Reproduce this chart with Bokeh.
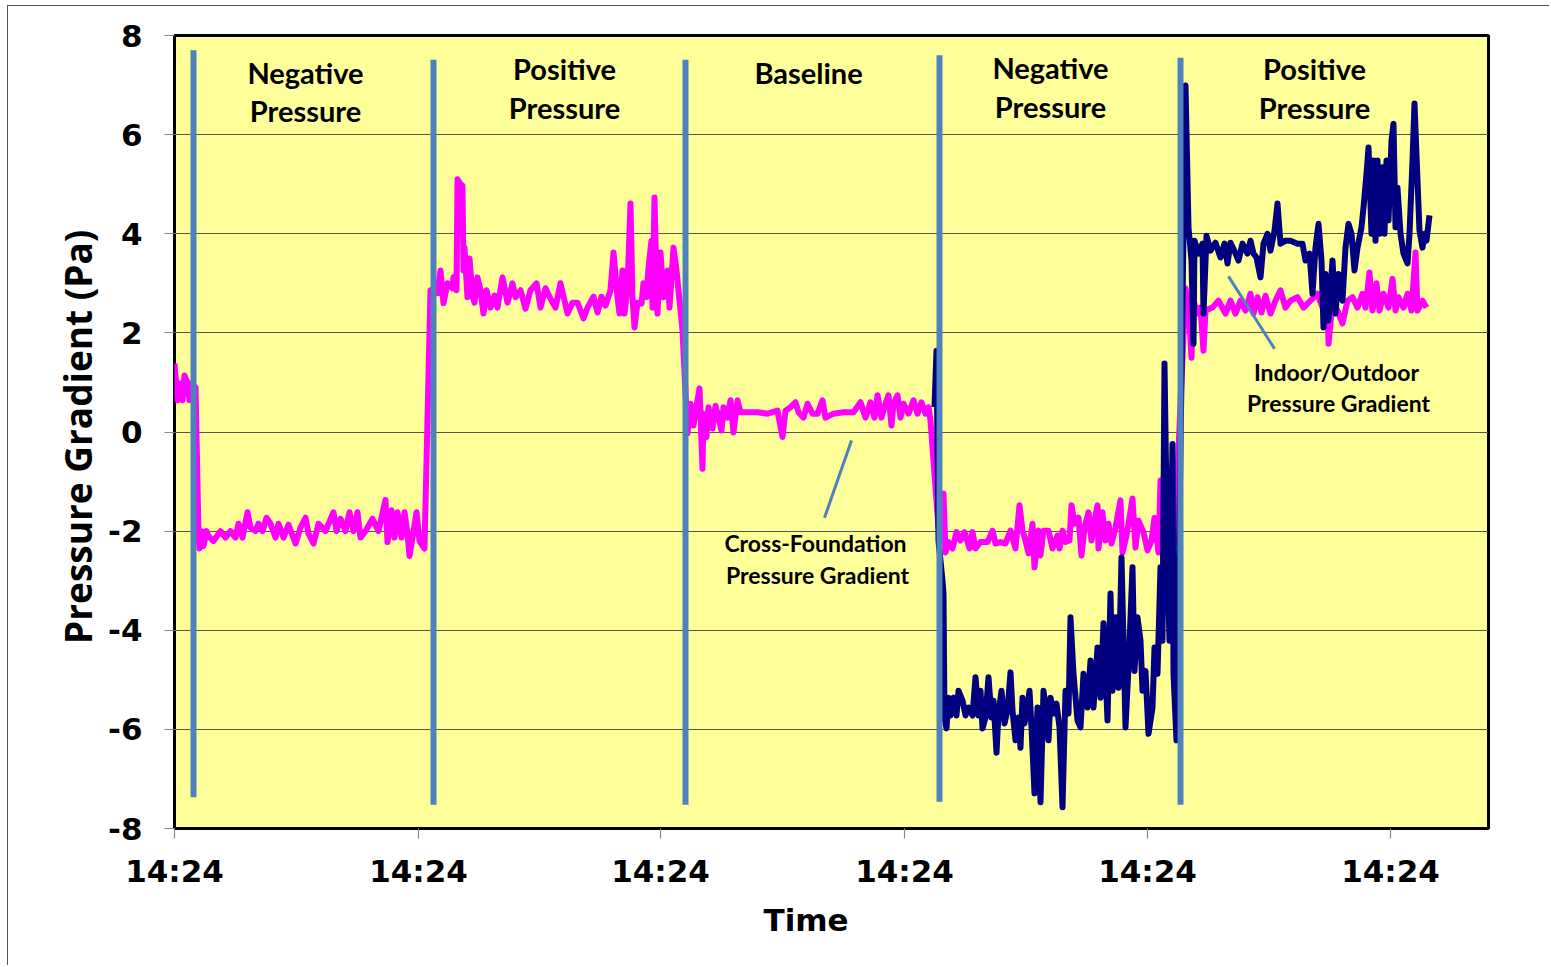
from bokeh.plotting import figure
from bokeh.models import FixedTicker, Label, Range1d, Title
from bokeh.embed import file_html
from bokeh.resources import INLINE

# ---------------- data ----------------
# time axis: seconds from the start of the record (every tick reads 14:24)
time_ticks = [0, 244, 486, 730, 973, 1216]
time_labels = ["14:24", "14:24", "14:24", "14:24", "14:24", "14:24"]
pa_ticks = [-8, -6, -4, -2, 0, 2, 4, 6, 8]
pa_labels = ["-8", "-6", "-4", "-2", "0", "2", "4", "6", "8"]

# test phases (vertical blue markers)
phase_names = ["Negative", "Positive", "Baseline", "Negative", "Positive"]
phase_change_t = [19, 259, 511, 765, 1006]
phase_line_top = [7.70, 7.51, 7.51, 7.60, 7.55]
phase_line_bottom = [-7.37, -7.52, -7.52, -7.46, -7.52]

# cross-foundation pressure gradient (Pa), (t, value)
cross_foundation_pre = [
    (0, 1.38), (3, 0.64), (5, 0.98), (8, 0.64), (10, 1.14), (13, 1.0), (15, 0.64),
    (17, 0.98), (21, 0.9)]
cross_foundation_neg1 = [
    (24, -2.05), (25, -2.35), (27, -2.0), (29, -2.3), (32, -2.0), (34, -2.1), (39, -2.2),
    (46, -2.0), (51, -2.13), (56, -2.0), (61, -2.13), (64, -1.85), (68, -2.13), (73, -1.62),
    (76, -1.93), (81, -2.0), (84, -1.85), (88, -2.0), (92, -1.73), (96, -1.85), (101, -2.13),
    (104, -1.85), (109, -2.13), (114, -1.87), (121, -2.25), (126, -1.93), (131, -1.73),
    (134, -2.05), (139, -2.25), (144, -1.85), (151, -2.0), (159, -1.62), (162, -2.0),
    (166, -1.75), (171, -2.0), (175, -1.62), (179, -2.0), (183, -1.62), (186, -2.13),
    (191, -2.0), (198, -1.75), (204, -2.0), (211, -1.37), (213, -2.22), (217, -1.58),
    (220, -2.13), (223, -1.62), (227, -2.13), (230, -1.62), (233, -2.05), (235, -2.5),
    (239, -2.0), (242, -1.62), (245, -2.2), (250, -2.35)]
cross_foundation_pos1 = [
    (256, 2.86), (263, 2.8), (266, 3.26), (269, 2.6), (273, 3.0), (278, 2.9), (279, 3.12),
    (282, 2.86), (283, 5.1), (286, 5.0), (288, 4.97), (289, 3.26), (290, 3.72), (293, 2.72),
    (295, 3.5), (298, 2.75), (300, 2.61), (303, 3.12), (306, 2.86), (309, 2.39), (312, 2.86),
    (316, 2.51), (320, 2.75), (323, 2.51), (328, 3.12), (333, 2.61), (338, 3.0), (341, 2.72),
    (346, 2.86), (351, 2.49), (356, 2.86), (362, 3.0), (366, 2.51), (371, 2.9), (376, 2.69),
    (381, 2.51), (386, 3.0), (390, 2.65), (393, 2.39), (398, 2.61), (403, 2.61), (409, 2.29),
    (413, 2.51), (419, 2.73), (423, 2.41), (427, 2.73), (431, 2.55), (436, 2.86), (439, 3.62),
    (443, 2.72), (445, 2.39), (448, 3.26), (450, 2.39), (453, 2.92), (456, 4.61), (458, 2.72),
    (460, 2.11), (463, 2.61), (467, 2.59), (469, 3.0), (472, 2.72), (474, 3.32), (477, 3.86),
    (478, 2.51), (480, 4.73), (482, 3.06), (483, 2.39), (486, 3.62), (489, 2.72), (493, 3.26),
    (495, 2.51), (499, 3.72), (502, 3.26), (508, 2.05)]
cross_foundation_base = [
    (513, -0.03), (516, 0.57), (519, 0.13), (523, 0.64), (525, 0.88), (528, -0.74),
    (529, 0.37), (532, -0.1), (534, 0.5), (538, 0.07), (541, 0.53), (544, 0.29), (547, 0.03),
    (549, 0.5), (553, 0.29), (556, 0.64), (559, -0.01), (563, 0.64), (566, 0.4), (573, 0.4),
    (583, 0.4), (593, 0.37), (603, 0.43), (608, -0.1), (611, 0.43), (616, 0.5), (621, 0.6),
    (624, 0.4), (629, 0.29), (633, 0.57), (638, 0.37), (643, 0.37), (648, 0.64), (651, 0.29),
    (659, 0.37), (669, 0.4), (679, 0.4), (686, 0.6), (691, 0.29), (696, 0.6), (700, 0.29),
    (703, 0.74), (707, 0.29), (711, 0.57), (714, 0.74), (717, 0.13), (719, 0.57), (723, 0.74),
    (726, 0.29), (729, 0.57), (734, 0.37), (739, 0.64), (743, 0.37), (747, 0.6), (751, 0.37),
    (754, 0.5), (756, 0.23)]
cross_foundation_neg2 = [
    (764, -1.92), (769, -1.24), (771, -2.43), (774, -2.22), (778, -2.35), (782, -2.02),
    (786, -2.19), (790, -2.02), (795, -2.35), (798, -2.02), (801, -2.35), (806, -2.22),
    (813, -2.22), (818, -1.99), (821, -2.25), (826, -2.22), (831, -2.25), (836, -1.99),
    (841, -2.35), (845, -1.48), (848, -1.99), (851, -2.19), (854, -2.45), (858, -1.85),
    (860, -2.73), (864, -1.99), (866, -2.49), (869, -1.99), (874, -1.99), (878, -2.35),
    (883, -2.09), (885, -2.35), (888, -1.99), (891, -2.22), (895, -2.19), (897, -1.48),
    (900, -1.85), (904, -1.73), (907, -2.49), (910, -1.93), (914, -1.62), (917, -2.19),
    (919, -1.89), (923, -1.48), (924, -2.35), (928, -1.62), (931, -2.19), (934, -1.85),
    (937, -2.25), (941, -1.93), (946, -1.38), (948, -2.43), (952, -2.09), (955, -1.73),
    (958, -1.34), (961, -2.33), (964, -1.79), (969, -2.02), (973, -2.39), (977, -2.19),
    (980, -1.73), (984, -2.43), (986, -0.98), (989, -2.19), (992, -1.45), (994, -2.6),
    (998, -0.72), (1000, -2.25)]
cross_foundation_pos2 = [
    (1011, 2.9), (1014, 2.59), (1017, 1.5), (1019, 2.65), (1023, 2.39), (1026, 2.51),
    (1029, 1.64), (1031, 2.45), (1038, 2.51), (1044, 2.65), (1051, 2.39), (1056, 2.65),
    (1061, 2.39), (1066, 2.65), (1071, 2.45), (1076, 2.79), (1079, 2.39), (1083, 2.72),
    (1087, 2.41), (1091, 2.75), (1096, 2.39), (1101, 2.65), (1106, 2.86), (1111, 2.51),
    (1116, 2.65), (1123, 2.72), (1129, 2.51), (1136, 2.65), (1143, 2.79), (1148, 2.51),
    (1153, 2.65), (1154, 1.78), (1158, 2.61), (1163, 2.45), (1168, 2.19), (1173, 2.65),
    (1178, 2.72), (1183, 2.51), (1188, 2.79), (1191, 2.51), (1195, 3.22), (1198, 2.45),
    (1202, 3.0), (1205, 2.45), (1209, 2.79), (1214, 2.51), (1218, 3.09), (1221, 2.45),
    (1224, 2.72), (1229, 2.51), (1233, 2.79), (1237, 2.45), (1241, 3.62), (1243, 2.45),
    (1248, 2.65), (1252, 2.51)]

# indoor/outdoor pressure gradient (Pa), (t, value)
indoor_outdoor_neg2 = [
    (760, 0.5), (762, 1.64), (764, -2.2), (768, -3.0), (769, -3.26), (770, -5.76),
    (772, -5.98), (774, -5.36), (776, -5.72), (779, -5.36), (782, -5.72), (784, -5.22),
    (788, -5.42), (791, -5.72), (794, -5.56), (798, -5.72), (801, -4.95), (804, -5.72),
    (806, -5.22), (808, -5.98), (811, -5.76), (814, -4.95), (817, -5.76), (819, -5.42),
    (822, -6.47), (824, -5.68), (827, -5.22), (830, -5.88), (833, -5.62), (836, -4.85),
    (838, -5.62), (841, -6.22), (844, -5.76), (846, -6.37), (848, -5.36), (850, -5.88),
    (853, -5.56), (855, -5.22), (857, -5.96), (860, -7.29), (863, -5.56), (866, -7.47),
    (869, -5.22), (871, -5.56), (874, -6.22), (876, -5.36), (879, -5.68), (882, -5.48),
    (885, -5.96), (888, -7.57), (891, -5.22), (894, -5.68), (896, -3.74), (899, -4.88),
    (903, -5.82), (906, -5.96), (909, -4.88), (913, -5.56), (916, -4.61), (919, -5.56),
    (923, -4.35), (926, -5.36), (929, -3.86), (933, -5.82), (936, -3.26), (938, -5.22),
    (941, -3.74), (944, -5.16), (947, -2.53), (951, -5.96), (954, -4.75), (958, -2.73),
    (960, -4.82), (963, -3.74), (966, -4.21), (968, -5.22), (971, -4.82), (974, -6.09),
    (978, -5.56), (980, -4.35), (983, -4.88), (986, -2.73), (988, -4.21), (990, 1.38),
    (993, -2.73), (995, -4.21), (998, -0.24), (999, -4.88), (1002, -6.22)]
indoor_outdoor_pos2 = [
    (1011, 6.99), (1014, 4.13), (1017, 3.46), (1019, 1.78), (1020, 3.86), (1024, 3.6),
    (1028, 3.8), (1029, 2.39), (1032, 3.96), (1036, 3.66), (1041, 3.82), (1046, 3.52),
    (1050, 3.8), (1053, 3.4), (1056, 3.82), (1061, 3.6), (1064, 3.46), (1068, 3.8),
    (1073, 3.6), (1076, 3.86), (1079, 3.6), (1082, 3.52), (1086, 3.12), (1089, 3.8),
    (1093, 4.0), (1096, 3.66), (1100, 4.06), (1103, 4.61), (1106, 3.8), (1111, 3.86),
    (1116, 3.86), (1123, 3.8), (1128, 3.8), (1131, 3.46), (1135, 3.6), (1138, 2.79),
    (1141, 3.72), (1144, 4.2), (1147, 3.46), (1149, 2.11), (1151, 3.19), (1154, 2.25),
    (1158, 3.46), (1161, 2.39), (1164, 3.19), (1168, 2.65), (1171, 3.72), (1174, 4.2),
    (1177, 4.0), (1180, 3.26), (1183, 3.72), (1187, 4.13), (1189, 4.53), (1192, 5.21),
    (1194, 5.74), (1197, 4.0), (1199, 5.48), (1201, 3.86), (1203, 5.48), (1205, 4.0),
    (1208, 5.34), (1210, 4.0), (1212, 5.48), (1214, 4.27), (1217, 5.88), (1219, 6.22),
    (1221, 4.13), (1223, 4.93), (1226, 4.0), (1229, 3.6), (1233, 3.4), (1235, 4.0),
    (1238, 5.48), (1240, 6.63), (1243, 5.07), (1245, 4.06), (1248, 3.72), (1250, 4.0),
    (1252, 3.86), (1255, 4.37)]

cross_foundation = (cross_foundation_pre + cross_foundation_neg1 + cross_foundation_pos1
                    + cross_foundation_base + cross_foundation_neg2 + cross_foundation_pos2)
indoor_outdoor = indoor_outdoor_neg2 + indoor_outdoor_pos2

# callout pointer lines (t0, pa0, t1, pa1)
callout_cross = (677, -0.17, 650, -1.73)
callout_indoor = (1054, 3.14, 1100, 1.68)

# ---------------- figure ----------------
PINK = "#FF00FF"
NAVY = "#000080"
STEEL = "#4F81BD"
LABEL_FONT = "Lato"
AXIS_FONT = "DejaVu Sans"

p = figure(width=1542, height=960, output_backend="svg", toolbar_location=None,
           x_range=Range1d(0, 1314), y_range=Range1d(-8, 8),
           min_border_left=166, min_border_top=29, min_border_right=62,
           min_border_bottom=138)
p.styles = {"margin-left": "7px", "margin-top": "5px",
            "border-top": "1px solid #555555", "border-left": "1px solid #555555"}
p.background_fill_color = "#FFFF99"
p.border_fill_color = "white"
p.outline_line_color = "black"
p.outline_line_width = 3

p.xgrid.visible = False
p.ygrid.grid_line_color = "#555555"
p.ygrid.grid_line_width = 1.2
p.ygrid.ticker = FixedTicker(ticks=pa_ticks)

p.yaxis.ticker = FixedTicker(ticks=pa_ticks)
p.yaxis.major_label_overrides = dict(zip(pa_ticks, pa_labels))
p.xaxis.ticker = FixedTicker(ticks=time_ticks)
p.xaxis.major_label_overrides = dict(zip(time_ticks, time_labels))

for ax in (p.xaxis[0], p.yaxis[0]):
    ax.axis_line_color = None
    ax.major_tick_out = 10
    ax.major_tick_in = 0
    ax.major_tick_line_color = "#888888"
    ax.major_tick_line_width = 1.2
    ax.minor_tick_line_color = None
    ax.major_label_text_font = AXIS_FONT
    ax.major_label_text_font_style = "bold"
    ax.major_label_text_font_size = "31px"
    ax.major_label_text_color = "black"
    ax.axis_label_text_font_style = "bold"
    ax.axis_label_text_color = "black"

p.yaxis.major_label_standoff = 22
p.xaxis.major_label_standoff = 14
p.yaxis.axis_label = "Pressure Gradient  (Pa)"
p.yaxis.axis_label_text_font = "Open Sans"
p.yaxis.axis_label_text_font_size = "37px"
p.yaxis.axis_label_standoff = 2

# x-axis title, slightly left of the frame centre as in the original
p.add_layout(Title(text="Time", align="left", offset=589, standoff=16,
                   text_font=AXIS_FONT, text_font_style="bold", text_font_size="31px",
                   text_color="black"), "below")

# series
p.line([t for t, v in cross_foundation], [v for t, v in cross_foundation],
       line_color=PINK, line_width=6, line_join="round")
p.line([t for t, v in indoor_outdoor], [v for t, v in indoor_outdoor],
       line_color=NAVY, line_width=6, line_join="round")

# phase markers
p.segment(x0=phase_change_t, y0=phase_line_bottom, x1=phase_change_t, y1=phase_line_top,
          line_color=STEEL, line_width=6)

# callout pointers
for c in (callout_cross, callout_indoor):
    p.segment(x0=[c[0]], y0=[c[1]], x1=[c[2]], y1=[c[3]], line_color=STEEL, line_width=3)

# phase titles
phase_title_pos = [(131, 7.25, 6.49), (390, 7.33, 6.55), (634, 7.25, None),
                   (876, 7.35, 6.57), (1140, 7.33, 6.55)]
for name, (tx, y1, y2) in zip(phase_names, phase_title_pos):
    p.add_layout(Label(x=tx, y=y1, text=name, text_align="center", text_baseline="middle",
                       text_font=LABEL_FONT, text_font_style="bold", text_font_size="29px",
                       text_color="black"))
    if y2 is not None:
        p.add_layout(Label(x=tx, y=y2, text="Pressure", text_align="center",
                           text_baseline="middle", text_font=LABEL_FONT,
                           text_font_style="bold", text_font_size="29px", text_color="black"))

series_notes = [("Cross-Foundation", 641, -2.23), ("Pressure Gradient", 643, -2.88),
                ("Indoor/Outdoor", 1162, 1.22), ("Pressure Gradient", 1164, 0.58)]
for txt, tx, ty in series_notes:
    p.add_layout(Label(x=tx, y=ty, text=txt, text_align="center", text_baseline="middle",
                       text_font=LABEL_FONT, text_font_style="bold", text_font_size="23px",
                       text_color="black"))

open("out.html", "w").write(file_html(p, INLINE))
